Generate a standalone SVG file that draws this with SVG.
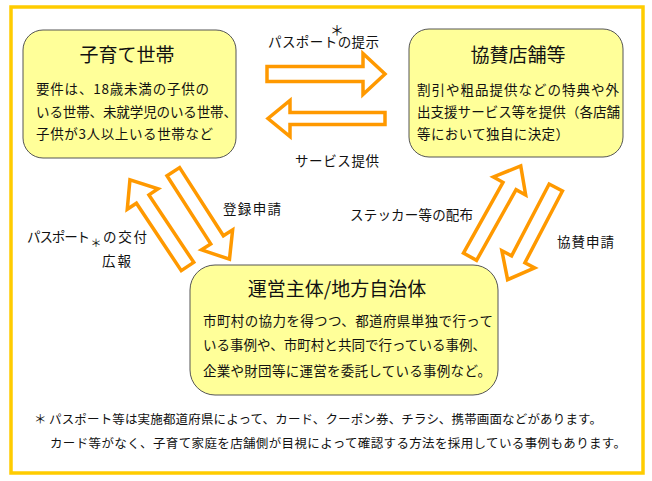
<svg xmlns="http://www.w3.org/2000/svg" xmlns:xlink="http://www.w3.org/1999/xlink" width="652" height="481" viewBox="0 0 652 481">
<style>
.frame{fill:#fff;stroke:#FFCC00;stroke-width:3.5}
.box{fill:#FFFF99;stroke:#555;stroke-width:1}
.arr{fill:#fff;stroke:#FF9900;stroke-width:3.5;stroke-linejoin:miter}
text{font-family:"Noto Sans CJK JP","Noto Sans",sans-serif;fill:#111}
.title{font-size:19px;text-anchor:middle}
.body{font-size:13.5px}
.lbl{font-size:13.5px}
.foot{font-size:12.5px}
</style>
<defs>
<polygon id="darr" points="0,-7.5 81,-7.5 81,-18.5 104,0 81,18.5 81,7.5 0,7.5"/>
</defs>
<rect class="frame" x="11" y="7" width="632" height="466"/>

<g id="connectors">
<polygon class="arr" points="267,66.5 363,66.5 363,53.5 385,74 363,94.5 363,81.5 267,81.5"/>
<polygon class="arr" points="385,112.5 290,112.5 290,100.5 268,118.5 290,136.5 290,124.5 385,124.5"/>
<use class="arr" xlink:href="#darr" href="#darr" transform="translate(187.5,266.5) rotate(236.4)"/>
<use class="arr" xlink:href="#darr" href="#darr" transform="translate(173.3,171.7) rotate(57.3)"/>
<use class="arr" xlink:href="#darr" href="#darr" transform="translate(470,256.7) rotate(-60.8)"/>
<use class="arr" xlink:href="#darr" href="#darr" transform="translate(555.8,187.5) rotate(117.6)"/>
</g>

<g id="labels">
<text class="lbl"><tspan x="268" y="47" textLength="111">パスポートの提示</tspan><tspan x="337" y="35" text-anchor="middle" style="font-size:14px">＊</tspan></text>
<text class="lbl" x="295" y="166" textLength="84">サービス提供</text>
<text class="lbl" x="223" y="214" textLength="58">登録申請</text>
<text class="lbl"><tspan x="27" y="242" textLength="63">パスポート</tspan><tspan x="96" y="247" text-anchor="middle" style="font-size:11px">＊</tspan><tspan x="103" y="242" textLength="44">の交付</tspan></text>
<text class="lbl" x="102" y="266" textLength="29">広報</text>
<text class="lbl" x="350" y="220" textLength="123">ステッカー等の配布</text>
<text class="lbl" x="557" y="247" textLength="57">協賛申請</text>
</g>

<g id="node-kosodate">
<rect class="box" x="23" y="30" width="213" height="128" rx="20" ry="20"/>
<text class="title" x="127" y="62">子育て世帯</text>
<text class="body" x="36" y="94" textLength="173">要件は、18歳未満の子供の</text>
<text class="body" x="36" y="117" textLength="201">いる世帯、未就学児のいる世帯、</text>
<text class="body" x="36" y="139" textLength="177">子供が3人以上いる世帯など</text>
</g>

<g id="node-kyousan">
<rect class="box" x="409" y="29" width="214" height="128" rx="20" ry="20"/>
<text class="title" x="518" y="62">協賛店舗等</text>
<text class="body" x="417" y="95" textLength="202">割引や粗品提供などの特典や外</text>
<text class="body" x="417" y="117" textLength="203">出支援サービス等を提供（各店舗</text>
<text class="body" x="417" y="139" textLength="152">等において独自に決定）</text>
</g>

<g id="node-unei">
<rect class="box" x="190" y="265" width="308" height="130" rx="25" ry="25"/>
<text class="title" x="337" y="296">運営主体/地方自治体</text>
<text class="body" x="203" y="326" textLength="290">市町村の協力を得つつ、都道府県単独で行って</text>
<text class="body" x="203" y="350" textLength="283">いる事例や、市町村と共同で行っている事例、</text>
<text class="body" x="203" y="376" textLength="288">企業や財団等に運営を委託している事例など。</text>
</g>

<g id="footnote">
<text class="foot" x="34" y="424">＊</text>
<text class="foot" x="49" y="424" textLength="553">パスポート等は実施都道府県によって、カード、クーポン券、チラシ、携帯画面などがあります。</text>
<text class="foot" x="50" y="448" textLength="576">カード等がなく、子育て家庭を店舗側が目視によって確認する方法を採用している事例もあります。</text>
</g>
</svg>
